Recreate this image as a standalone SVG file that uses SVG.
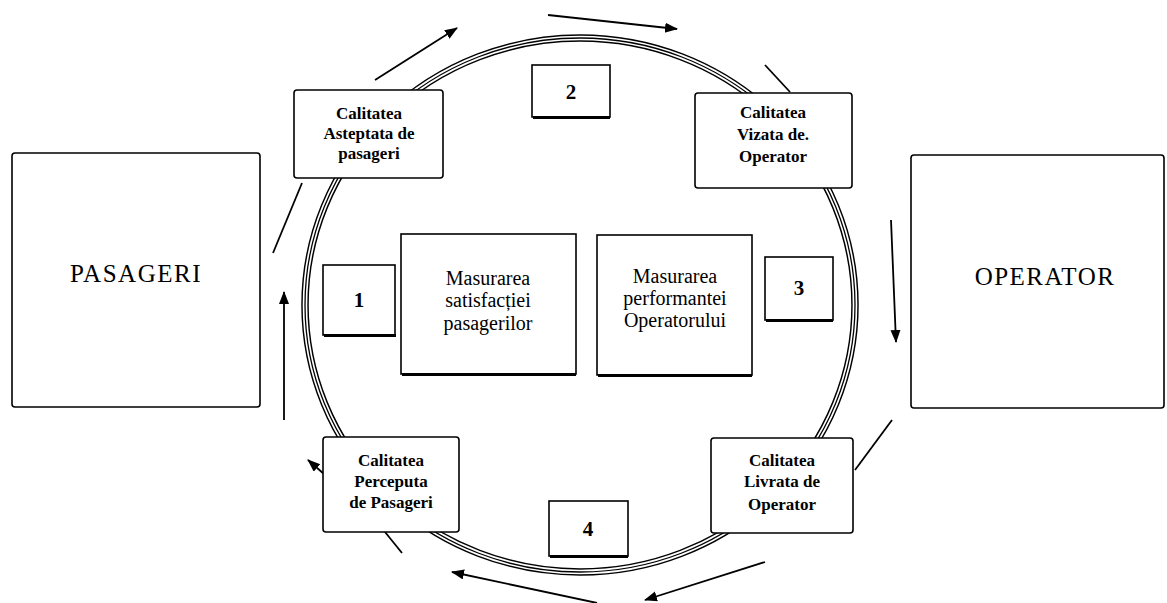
<svg xmlns="http://www.w3.org/2000/svg" width="1167" height="603" viewBox="0 0 1167 603">
<defs>
<style>
.bx{fill:#fff;stroke:#000;stroke-width:1.6}
.sh{stroke:#000;stroke-width:3}
.lbl{font-family:"Liberation Serif","DejaVu Serif",serif;font-size:17px;font-weight:bold;text-anchor:middle;fill:#000}
.mid{font-family:"Liberation Serif","DejaVu Serif",serif;font-size:20px;font-weight:normal;text-anchor:middle;fill:#000}
.num{font-family:"Liberation Serif","DejaVu Serif",serif;font-size:21px;font-weight:bold;text-anchor:middle;fill:#000}
.big{font-family:"Liberation Serif","DejaVu Serif",serif;font-size:25px;font-weight:normal;text-anchor:middle;fill:#000}
.cn{stroke:#000;stroke-width:1.8;fill:none}
</style>
<marker id="ah" markerUnits="userSpaceOnUse" markerWidth="14" markerHeight="12" refX="12" refY="5" orient="auto">
<path d="M0,0 L13,5 L0,10 z" fill="#000"/>
</marker>
</defs>
<rect width="1167" height="603" fill="#fff"/>
<g id="ring">
<ellipse cx="580" cy="305" rx="275" ry="267" fill="none" stroke="#000" stroke-width="7.5"/>
<ellipse cx="580" cy="305" rx="275" ry="267" fill="none" stroke="#fff" stroke-width="4.6"/>
<ellipse cx="580" cy="305" rx="275" ry="267" fill="none" stroke="#000" stroke-width="1.3"/>
</g>
<g id="connectors">
<line class="cn" x1="375" y1="80" x2="457" y2="28" marker-end="url(#ah)"/>
<line class="cn" x1="548" y1="15" x2="677" y2="29" marker-end="url(#ah)"/>
<line class="cn" x1="765" y1="65" x2="790" y2="92"/>
<line class="cn" x1="891" y1="220" x2="896" y2="342" marker-end="url(#ah)"/>
<line class="cn" x1="892" y1="420" x2="855" y2="470"/>
<line class="cn" x1="765" y1="562" x2="645" y2="600" marker-end="url(#ah)"/>
<line class="cn" x1="597" y1="603" x2="452" y2="572" marker-end="url(#ah)"/>
<line class="cn" x1="385" y1="532" x2="402" y2="553"/>
<line class="cn" x1="324" y1="474" x2="308" y2="460" marker-end="url(#ah)"/>
<line class="cn" x1="284" y1="420" x2="284" y2="292" marker-end="url(#ah)"/>
<line class="cn" x1="273" y1="253" x2="302" y2="183"/>
</g>
<g id="pasageri">
<rect class="bx" x="12" y="153" width="248" height="254" rx="3"/>
<text class="big" x="136" y="282" letter-spacing="1.5">PASAGERI</text>
</g>
<g id="operator">
<rect class="bx" x="911" y="155" width="253" height="253" rx="3"/>
<text class="big" x="1045" y="285" letter-spacing="1.5">OPERATOR</text>
</g>
<g id="asteptata">
<rect class="bx" x="294" y="90" width="149" height="88" rx="3"/>
<text class="lbl" x="369" y="119">Calitatea</text>
<text class="lbl" x="369" y="139">Asteptata de</text>
<text class="lbl" x="369" y="159">pasageri</text>
</g>
<g id="vizata">
<rect class="bx" x="695" y="93" width="157" height="95" rx="3"/>
<text class="lbl" x="773" y="118">Calitatea</text>
<text class="lbl" x="773" y="140">Vizata de.</text>
<text class="lbl" x="773" y="162">Operator</text>
</g>
<g id="perceputa">
<rect class="bx" x="323" y="437" width="136" height="95" rx="3"/>
<text class="lbl" x="391" y="466">Calitatea</text>
<text class="lbl" x="391" y="487">Perceputa</text>
<text class="lbl" x="391" y="508">de Pasageri</text>
</g>
<g id="livrata">
<rect class="bx" x="711" y="438" width="142" height="95" rx="3"/>
<text class="lbl" x="782" y="466">Calitatea</text>
<text class="lbl" x="782" y="487">Livrata de</text>
<text class="lbl" x="782" y="510">Operator</text>
</g>
<g id="satisfactie">
<rect class="bx" x="401" y="234" width="175" height="140"/>
<line class="sh" x1="402" y1="374.5" x2="576" y2="374.5"/>
<text class="mid" x="488" y="285">Masurarea</text>
<text class="mid" x="488" y="307">satisfacției</text>
<text class="mid" x="488" y="330">pasagerilor</text>
</g>
<g id="performanta">
<rect class="bx" x="597" y="235" width="155" height="140"/>
<line class="sh" x1="598" y1="375.5" x2="752" y2="375.5"/>
<text class="mid" x="675" y="283">Masurarea</text>
<text class="mid" x="675" y="305">performantei</text>
<text class="mid" x="675" y="327">Operatorului</text>
</g>
<g id="n1">
<rect class="bx" x="323" y="265" width="72" height="70"/>
<line class="sh" x1="324" y1="335.5" x2="396" y2="335.5"/>
<text class="num" x="359" y="307">1</text>
</g>
<g id="n2">
<rect class="bx" x="532" y="65" width="78" height="52"/>
<line class="sh" x1="533" y1="117.5" x2="610" y2="117.5"/>
<text class="num" x="571" y="99">2</text>
</g>
<g id="n3">
<rect class="bx" x="765" y="257" width="68" height="63"/>
<line class="sh" x1="766" y1="320.5" x2="833" y2="320.5"/>
<text class="num" x="799" y="295">3</text>
</g>
<g id="n4">
<rect class="bx" x="549" y="501" width="79" height="55"/>
<line class="sh" x1="550" y1="556.5" x2="628" y2="556.5"/>
<text class="num" x="588" y="536">4</text>
</g>
</svg>
